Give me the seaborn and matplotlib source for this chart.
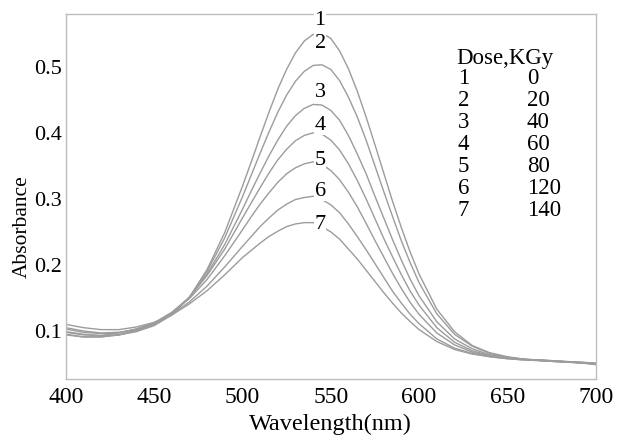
import matplotlib
matplotlib.use("Agg")
import matplotlib.pyplot as plt
import seaborn as sns
import pandas as pd

# wavelength grid (nm): finer steps across the band so the peaks stay round
wavelength = (list(range(400, 500, 10)) + list(range(500, 600, 5))
              + list(range(600, 701, 10)))

# absorbance
curve_1 = [.098, .094, .092, .093, .098, .107, .123, .150, .192, .248,
           .318, .355, .393, .430, .465, .495, .520, .538, .548, .550,
           .542, .523, .496, .462, .423, .381, .338, .295, .255, .218,
           .185, .132, .098, .077, .066, .060, .056, .054, .053, .051, .049]
curve_2 = [.104, .099, .096, .097, .101, .109, .124, .150, .189, .240,
           .302, .335, .368, .400, .430, .456, .477, .492, .501, .502,
           .495, .478, .453, .423, .388, .349, .310, .272, .235, .202,
           .172, .125, .094, .076, .065, .059, .056, .055, .053, .052, .050]
curve_3 = [.094, .090, .090, .093, .099, .109, .125, .150, .185, .230,
           .283, .311, .338, .364, .388, .409, .425, .436, .442, .441,
           .433, .418, .395, .367, .337, .303, .270, .237, .206, .177,
           .152, .113, .087, .072, .063, .059, .056, .054, .052, .051, .049]
curve_4 = [.102, .097, .095, .096, .102, .111, .127, .150, .183, .223,
           .270, .293, .316, .338, .358, .374, .387, .395, .399, .397,
           .388, .373, .352, .327, .299, .269, .239, .211, .184, .159,
           .138, .104, .082, .069, .062, .058, .056, .054, .053, .051, .050]
curve_5 = [.093, .090, .090, .093, .100, .111, .127, .148, .177, .213,
           .252, .272, .291, .308, .324, .337, .346, .352, .355, .351,
           .342, .328, .309, .287, .262, .236, .211, .186, .163, .142,
           .124, .096, .078, .067, .061, .058, .056, .055, .053, .052, .050]
curve_6 = [.109, .104, .101, .101, .105, .112, .124, .143, .167, .196,
           .227, .242, .257, .270, .282, .291, .298, .301, .303, .298,
           .290, .278, .261, .242, .222, .201, .180, .159, .141, .124,
           .110, .087, .073, .065, .060, .057, .055, .054, .052, .051, .048]
curve_7 = [.097, .093, .092, .096, .102, .111, .123, .140, .160, .184,
           .210, .221, .232, .242, .250, .257, .261, .263, .263, .257,
           .249, .238, .223, .208, .191, .174, .157, .141, .126, .113,
           .101, .083, .071, .064, .060, .057, .055, .054, .053, .051, .050]

curve_ids = ["1", "2", "3", "4", "5", "6", "7"]
doses = ["0", "20", "40", "60", "80", "120", "140"]

# curve number labels placed over the peaks (wavelength, absorbance)
label_x = [544, 544, 544, 544, 544, 544, 544]
label_y = [0.571, 0.536, 0.461, 0.411, 0.359, 0.311, 0.262]

x_ticks = [400, 450, 500, 550, 600, 650, 700]
y_ticks = [0.1, 0.2, 0.3, 0.4, 0.5]

series = [curve_1, curve_2, curve_3, curve_4, curve_5, curve_6, curve_7]
df = pd.concat(
    [pd.DataFrame({"wavelength": wavelength, "absorbance": s, "curve": c})
     for s, c in zip(series, curve_ids)],
    ignore_index=True,
)

sns.set_style("white")
plt.rcParams["font.family"] = ["Liberation Serif", "DejaVu Serif"]
plt.rcParams["text.color"] = "black"
plt.rcParams["xtick.color"] = "black"
plt.rcParams["ytick.color"] = "black"
plt.rcParams["axes.labelcolor"] = "black"

fig = plt.figure(figsize=(6.2, 4.39), dpi=100)
ax = fig.add_axes([0.106, 0.134, 0.855, 0.832])

sns.lineplot(data=df, x="wavelength", y="absorbance", units="curve",
             estimator=None, color="#9c9c9c", linewidth=1.0, ax=ax,
             legend=False)

ax.set_xlim(400, 700)
ax.set_ylim(0.026, 0.579)
ax.set_xticks(x_ticks)
ax.set_yticks(y_ticks)
ax.set_xticklabels([str(t) for t in x_ticks], fontsize=17)
ax.set_yticklabels(["%.1f" % t for t in y_ticks], fontsize=16)
ax.tick_params(axis="x", length=0, pad=5)
ax.tick_params(axis="y", length=0, pad=3)
ax.set_xlabel("Wavelength(nm)", fontsize=17.5, labelpad=4)
ax.set_ylabel("Absorbance", fontsize=15.5)
ax.yaxis.set_label_coords(-0.064, 0.42)

for sp in ax.spines.values():
    sp.set_color("#bdbdbd")
    sp.set_linewidth(1.0)

for cid, lx, ly in zip(curve_ids, label_x, label_y):
    ax.text(lx, ly, cid, fontsize=16, ha="center", va="center", zorder=5,
            bbox=dict(facecolor="white", edgecolor="none", pad=0.3),
            clip_on=False)

# dose table in the upper right
ax.text(0.736, 0.882, "Dose,KGy", transform=ax.transAxes, fontsize=16.5,
        ha="left", va="center")
for i, (cid, d) in enumerate(zip(curve_ids, doses)):
    yy = 0.825 - i * 0.0603
    ax.text(0.740, yy, cid, transform=ax.transAxes, fontsize=16.5,
            ha="left", va="center")
    ax.text(0.870, yy, d, transform=ax.transAxes, fontsize=16.5,
            ha="left", va="center")

fig.savefig("out.png", dpi=100)
